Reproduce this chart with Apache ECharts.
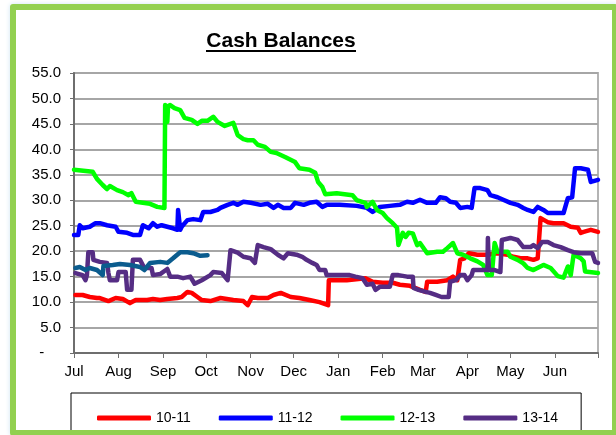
<!DOCTYPE html>
<html>
<head>
<meta charset="utf-8">
<script src="https://cdn.jsdelivr.net/npm/echarts@6/dist/echarts.min.js"></script>
<style>
  html, body { margin: 0; padding: 0; background: #fff; }
  #wrap { position: relative; width: 616px; height: 435px; overflow: hidden; }
  #main { position: absolute; left: 0; top: 0; width: 616px; height: 435px; }
  #frame {
    position: absolute; left: 10px; top: 4px; width: 608px; height: 432px;
    box-sizing: border-box; border: 6px solid #92d050; border-radius: 3px;
    box-shadow: 0 0 5px #cfe6f3; pointer-events: none;
  }
</style>
</head>
<body>
<div id="wrap">
  <div id="main"></div>
  <div id="frame"></div>
</div>
<script>
// month labels, tick days counted from 1 Jul
var monthNames = ['Jul', 'Aug', 'Sep', 'Oct', 'Nov', 'Dec', 'Jan', 'Feb', 'Mar', 'Apr', 'May', 'Jun'];
var monthStarts = [0, 31, 62, 92, 123, 153, 184, 215, 243, 274, 304, 335, 365];
var yTicks = [0, 5, 10, 15, 20, 25, 30, 35, 40, 45, 50, 55];

var legendNames = ['10-11', '11-12', '12-13', '13-14'];

// [day, balance]
var bal1011 = [[1,11.4],[6,11.4],[11,11.0],[16,10.8],[18,10.8],[24,10.2],[29,10.8],[34,10.6],[39,9.8],[43,10.4],[51,10.4],[55,10.6],[60,10.4],[65,10.6],[72,10.8],[75,11.0],[79,12.0],[82,11.8],[86,11.0],[89,10.4],[95,10.2],[102,10.8],[111,10.4],[118,10.2],[121,9.4],[124,11.0],[128,10.8],[135,10.8],[139,11.4],[144,11.8],[151,11.0],[157,10.8],[164,10.4],[171,10.0],[177,9.4],[177.5,14.3],[190,14.3],[203,14.7],[208,14.0],[215,13.8],[222,13.8],[227,13.4],[234,13.2],[241,12.4],[245,12.0],[246,14.0],[253,14.0],[260,14.3],[264,15.0],[267,14.3],[269,18.3],[272,18.6],[275,19.6],[281,19.3],[288,19.3],[295,19.6],[302,19.3],[306,18.9],[311,18.6],[316,18.6],[320,18.3],[323,18.6],[325,26.5],[330,25.7],[334,25.5],[341,25.5],[346,24.8],[351,24.6],[353,23.6],[355,23.8],[360,24.2],[365,23.8]];

var bal1112 = [[0,23.2],[3,23.2],[4,25.1],[6,24.5],[11,24.8],[15,25.5],[18,25.5],[23,25.1],[29,24.8],[31,23.8],[37,23.6],[41,23.2],[46,23.2],[48,25.1],[52,24.5],[55,25.5],[58,24.8],[61,25.1],[65,24.8],[69,24.5],[72,24.2],[72.5,28.1],[74,24.2],[75,24.8],[79,26.1],[83,26.3],[88,26.1],[90,27.7],[95,27.7],[100,28.1],[102,28.5],[107,29.1],[111,29.5],[114,29.1],[118,29.7],[123,29.5],[130,29.1],[135,29.3],[139,28.5],[142,29.1],[146,28.5],[151,28.5],[154,29.5],[160,29.1],[164,29.5],[169,29.7],[173,28.7],[176,29.1],[185,29.1],[197,28.9],[204,28.5],[208,27.7],[213,28.7],[220,28.9],[227,29.1],[232,29.7],[236,29.5],[241,30.1],[246,29.5],[252,29.5],[255,30.6],[259,30.4],[262,29.7],[266,29.5],[269,28.5],[274,28.7],[277,28.5],[279,32.4],[283,32.4],[288,32.0],[290,31.0],[295,30.6],[299,30.1],[304,29.5],[309,29.1],[313,28.5],[316,28.1],[320,27.7],[323,28.7],[327,28.1],[330,27.5],[341,27.5],[344,30.4],[347,30.6],[349,36.3],[353,36.3],[358,36.0],[360,33.6],[365,34.0]];

var bal1213 = [[0,36.0],[13,35.6],[16,34.2],[20,33.0],[23,32.2],[25,32.8],[30,32.0],[34,31.6],[38,31.0],[40,31.4],[43,29.7],[53,29.3],[58,28.7],[63,28.5],[63.5,48.7],[65,45.4],[65.5,48.5],[67,48.7],[70,48.1],[74,47.7],[77,46.2],[82,45.8],[86,45.0],[89,45.6],[93,45.6],[97,46.4],[100,45.4],[105,44.6],[111,45.2],[114,42.8],[118,42.0],[121,41.8],[125,41.8],[128,40.9],[133,40.5],[137,39.5],[141,39.3],[147,38.5],[154,37.5],[157,36.3],[164,36.0],[168,35.4],[170,33.6],[173,32.6],[175,31.2],[183,31.4],[194,31.0],[197,30.0],[203,29.5],[204,28.7],[208,29.7],[211,28.1],[215,27.5],[218,26.5],[222,25.5],[225,24.6],[226,21.2],[229,23.6],[231,22.8],[233,23.6],[236,23.5],[239,21.2],[241,21.6],[246,19.6],[253,19.9],[257,19.9],[260,20.6],[264,21.6],[267,19.6],[271,19.3],[276,18.6],[281,18.0],[285,17.3],[288,15.3],[291,15.3],[293,21.6],[295,19.9],[302,19.9],[304,18.9],[309,18.3],[313,17.6],[316,16.7],[320,16.3],[327,17.3],[332,16.7],[337,15.1],[341,14.8],[344,17.0],[346,15.3],[348,19.3],[353,18.6],[355,18.0],[356,16.0],[365,15.7]];

var bal1314 = [[1,15.7],[6,15.3],[8,14.3],[9,15.3],[10,19.8],[13,19.8],[13.5,18.3],[18,17.9],[23,17.7],[24,15.7],[25,14.3],[30,14.3],[31,15.9],[36,15.9],[37,12.4],[40,12.4],[41,18.3],[46,18.3],[49,16.7],[54,16.7],[55,15.3],[60,15.5],[65,16.5],[67,15.0],[72,15.0],[76,14.7],[81,15.0],[84,13.6],[89,14.3],[95,15.3],[97,15.9],[103,15.7],[107,14.3],[109,20.2],[114,19.7],[118,18.9],[123,18.6],[126,17.7],[128,21.2],[132,20.8],[137,20.4],[142,19.3],[146,18.6],[149,19.6],[155,19.3],[159,18.9],[162,18.3],[166,17.7],[169,17.3],[171,16.3],[175,16.3],[176,15.3],[192,15.3],[196,15.0],[201,14.7],[204,13.4],[208,13.6],[210,12.4],[213,13.0],[220,13.0],[222,15.3],[226,15.3],[232,15.0],[236,15.0],[236.5,12.8],[240,12.4],[245,12.0],[248,11.8],[252,11.4],[256,11.0],[261,11.0],[262,14.0],[266,14.3],[269,15.3],[272,15.3],[274,14.3],[277,15.3],[278,16.3],[285,16.3],[288,16.3],[288.3,22.6],[289,16.3],[293,16.3],[297,15.9],[298,22.2],[304,22.6],[309,22.2],[313,20.8],[318,20.8],[320,21.2],[323,20.6],[326,21.8],[330,21.8],[334,21.2],[339,20.8],[344,20.2],[348,19.8],[353,19.6],[361,19.6],[363,17.9],[365,17.7]];

// short current-year line, not in the legend
var bal1415 = [[1,16.7],[4,16.9],[8,16.3],[11,16.7],[16,16.3],[20,15.3],[20.5,17.1],[27,17.3],[32,17.5],[39,17.3],[46,16.9],[49,16.3],[53,17.7],[60,17.9],[65,17.7],[69,18.6],[74,19.8],[79,19.8],[83,19.6],[88,19.1],[93,19.2]];

var colors = ['#ff0000', '#0000ff', '#00ff00', '#552d84', '#0b5c8e'];
var font = "'Liberation Sans', Arial, sans-serif";

var myChart = echarts.init(document.getElementById('main'));

function lineSeries(name, data, color) {
    return {
        name: name,
        type: 'line',
        data: data,
        showSymbol: false,
        symbol: 'none',
        animation: false,
        itemStyle: { color: color },
        lineStyle: { color: color, width: 4.5, join: 'round', cap: 'round' }
    };
}

var option = {
    animation: false,
    color: colors,
    title: {
        text: 'Cash Balances',
        left: 276,
        top: 26,
        textAlign: 'center',
        textStyle: { fontFamily: font, fontSize: 21, fontWeight: 'bold', color: '#000' }
    },
    graphic: [{
        type: 'line',
        shape: { x1: 206, y1: 51, x2: 356, y2: 51 },
        style: { stroke: '#000', lineWidth: 2 }
    }],
    grid: {
        left: 74, right: 18, top: 73, bottom: 82,
        show: true, borderColor: '#b4b4b4', borderWidth: 2, backgroundColor: '#fff'
    },
    legend: {
        data: legendNames,
        left: 71,
        top: 393,
        width: 519,
        padding: [18, 23, 30, 26],
        borderColor: '#000',
        borderWidth: 1,
        itemGap: 28,
        itemWidth: 54,
        itemHeight: 5,
        icon: 'roundRect',
        textStyle: { fontFamily: font, fontSize: 14, color: '#000' }
    },
    xAxis: {
        type: 'value',
        min: 0,
        max: 365,
        axisLine: { onZero: false, lineStyle: { color: '#6e6e6e', width: 2 } },
        axisTick: { show: true, length: 5, customValues: monthStarts, lineStyle: { color: '#6e6e6e', width: 1 } },
        axisLabel: {
            customValues: monthStarts.slice(0, 12),
            margin: 11,
            fontFamily: font, fontSize: 15, color: '#000',
            formatter: function (v) {
                var i = monthStarts.indexOf(v);
                return i >= 0 && i < 12 ? monthNames[i] : '';
            }
        },
        splitLine: { show: false }
    },
    yAxis: {
        type: 'value',
        min: 0,
        max: 55,
        interval: 5,
        axisLine: { show: true, lineStyle: { color: '#6e6e6e', width: 2 } },
        axisTick: { show: true, length: 4, lineStyle: { color: '#6e6e6e' } },
        axisLabel: {
            margin: 13,
            fontFamily: font, fontSize: 15, color: '#000',
            formatter: function (v) { return v === 0 ? '-    ' : v.toFixed(1); }
        },
        splitLine: { show: true, lineStyle: { color: '#a6a6a6', width: 2 } }
    },
    series: [
        lineSeries(legendNames[0], bal1011, colors[0]),
        lineSeries(legendNames[1], bal1112, colors[1]),
        lineSeries(legendNames[2], bal1213, colors[2]),
        lineSeries(legendNames[3], bal1314, colors[3]),
        lineSeries('14-15', bal1415, colors[4])
    ]
};

myChart.setOption(option);
</script>
</body>
</html>
